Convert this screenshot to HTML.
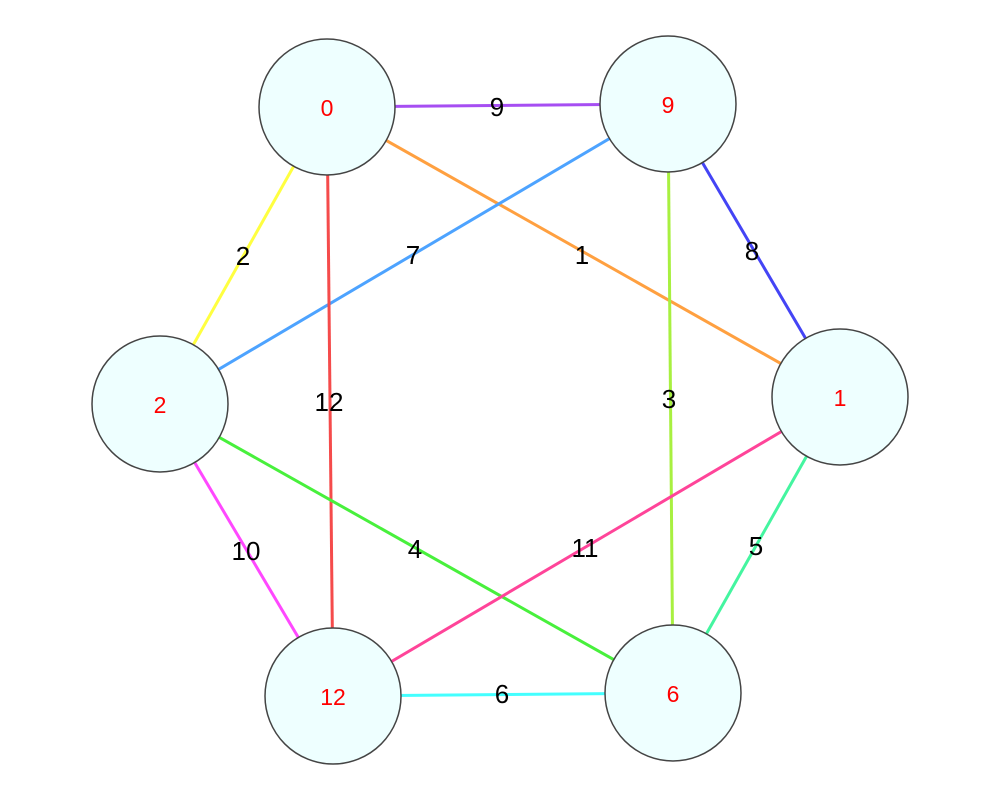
<!DOCTYPE html>
<html><head><meta charset="utf-8"><style>
html,body{margin:0;padding:0;background:#fff;}
svg{display:block;}
text{font-family:"Liberation Sans",Arial,sans-serif;}
</style></head><body>
<svg width="1000" height="800" viewBox="0 0 1000 800">
<g stroke-width="3" fill="none">
<line x1="327" y1="107" x2="668" y2="104" stroke="#a64ef2"/>
<line x1="668" y1="104" x2="840" y2="397" stroke="#4444f5"/>
<line x1="327" y1="107" x2="840" y2="397" stroke="#ffa040"/>
<line x1="668" y1="104" x2="160" y2="404" stroke="#4da3ff"/>
<line x1="327" y1="107" x2="160" y2="404" stroke="#ffff40"/>
<line x1="327" y1="107" x2="333" y2="696" stroke="#f54b4b"/>
<line x1="668" y1="104" x2="673" y2="693" stroke="#a8f040"/>
<line x1="160" y1="404" x2="673" y2="693" stroke="#48f03c"/>
<line x1="840" y1="397" x2="333" y2="696" stroke="#ff4499"/>
<line x1="840" y1="397" x2="673" y2="693" stroke="#44f5a0"/>
<line x1="160" y1="404" x2="333" y2="696" stroke="#ff48ff"/>
<line x1="333" y1="696" x2="673" y2="693" stroke="#44ffff"/>
</g>
<g font-size="26" fill="#000" text-anchor="middle">
<text x="497" y="116">9</text>
<text x="752" y="260">8</text>
<text x="582" y="264">1</text>
<text x="413" y="264">7</text>
<text x="243" y="265">2</text>
<text x="329" y="411">12</text>
<text x="669" y="408">3</text>
<text x="415" y="558">4</text>
<text x="585" y="557">11</text>
<text x="756" y="555">5</text>
<text x="246" y="560">10</text>
<text x="502" y="703">6</text>
</g>
<g fill="#eeffff" stroke="#444" stroke-width="1.5">
<circle cx="327" cy="107" r="68"/>
<circle cx="668" cy="104" r="68"/>
<circle cx="160" cy="404" r="68"/>
<circle cx="840" cy="397" r="68"/>
<circle cx="333" cy="696" r="68"/>
<circle cx="673" cy="693" r="68"/>
</g>
<g font-size="23" fill="#ff0000" text-anchor="middle">
<text x="327" y="116">0</text>
<text x="668" y="113">9</text>
<text x="160" y="413">2</text>
<text x="840" y="406">1</text>
<text x="333" y="705">12</text>
<text x="673" y="702">6</text>
</g>
</svg>
</body></html>
